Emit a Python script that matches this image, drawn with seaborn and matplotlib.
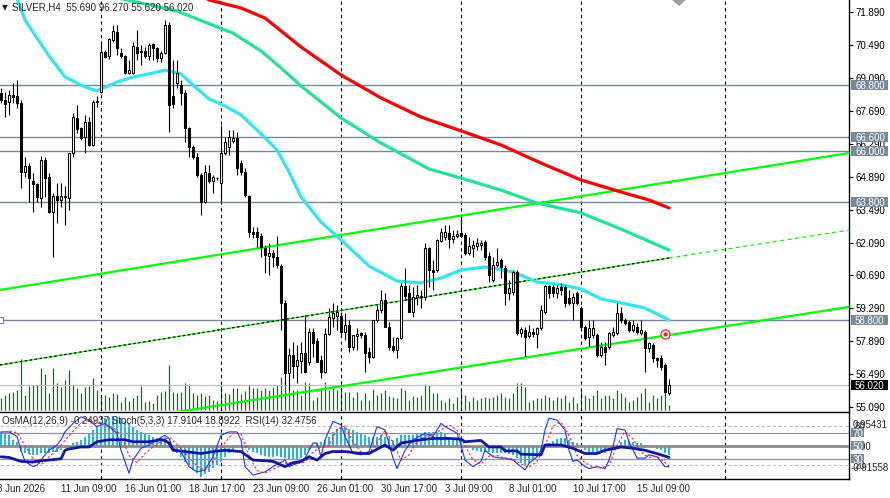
import numpy as np
import matplotlib
matplotlib.use("Agg")
import matplotlib.pyplot as plt
import matplotlib.transforms as mtransforms
from matplotlib.patches import Rectangle, Polygon
import seaborn as sns

# ---------------- data ----------------
open_ = [68.45,68.15,68.07,68.37,68.32,68.03,65.09,65.35,64.71,64.58,
         63.98,65.60,64.88,63.39,64.07,63.90,64.07,63.98,65.90,67.39,
         66.96,66.58,67.22,66.24,68.07,68.49,70.20,70.03,70.71,71.05,
         70.15,70.03,69.30,69.30,70.41,70.20,70.24,70.03,70.54,70.37,
         69.94,70.15,71.35,68.32,68.88,68.79,68.45,66.96,66.15,65.73,
         64.96,63.81,65.05,64.71,64.83,64.62,65.90,66.15,66.41,66.54,
         65.47,65.09,64.07,62.54,62.54,62.37,61.86,61.52,61.64,61.47,
         61.09,59.52,56.54,57.30,56.83,57.05,57.39,57.01,58.28,57.90,
         57.09,56.58,58.20,58.88,58.96,58.96,58.28,58.58,57.64,58.11,
         58.24,58.15,57.43,57.22,58.79,59.22,59.64,58.49,57.69,57.52,
         58.03,60.24,59.94,59.13,59.77,59.77,59.77,61.86,60.92,60.92,
         62.15,62.32,62.49,62.24,62.37,62.49,62.41,61.64,61.86,61.94,
         61.98,62.11,61.52,60.49,61.13,61.35,61.01,59.94,59.98,60.84,
         58.24,58.37,58.11,58.28,58.20,58.45,59.13,60.24,60.20,59.94,
         60.20,60.20,59.73,59.52,59.94,59.30,58.49,58.07,58.15,58.15,
         57.30,57.64,57.64,58.15,58.24,59.09,58.79,58.71,58.37,58.49,
         58.24,58.28,57.60,57.73,57.18,57.18,56.88,55.69]
high_ = [68.66,68.49,68.58,68.88,69.01,68.15,65.73,65.47,65.05,64.62,
         65.77,65.73,65.05,64.20,64.62,64.62,64.49,65.90,67.60,67.94,
         67.01,67.52,67.43,68.15,68.32,70.62,70.28,70.79,71.35,71.35,
         70.37,70.07,69.86,70.62,71.13,70.49,70.41,70.58,70.58,70.41,
         70.24,71.56,71.47,69.86,69.86,69.01,68.58,67.01,66.24,65.90,
         65.05,65.39,65.39,64.96,64.88,67.09,66.58,66.88,66.88,66.79,
         65.60,65.26,64.11,62.75,62.75,62.49,61.98,62.07,61.77,62.37,
         61.18,59.64,57.60,57.86,57.73,57.86,59.01,58.45,58.45,58.03,
         57.30,58.45,59.30,59.52,59.43,59.13,59.09,58.79,58.15,58.45,
         58.28,58.28,57.64,58.79,59.43,60.07,59.94,58.71,58.07,58.07,
         60.37,61.01,60.28,60.20,60.28,60.07,62.07,61.90,61.35,62.24,
         62.71,62.84,62.84,62.62,62.62,63.26,62.49,62.32,62.20,62.28,
         62.20,62.20,61.69,61.47,61.86,61.43,61.13,60.49,60.92,60.92,
         58.49,58.49,58.58,58.45,58.49,59.43,60.28,60.28,60.28,60.28,
         60.37,60.28,60.07,59.94,60.03,59.39,58.58,58.79,58.79,58.24,
         57.86,57.86,58.28,58.49,59.52,59.35,58.88,58.79,58.79,58.66,
         58.79,58.37,57.86,57.81,57.22,57.30,56.96,56.27]
low_ = [68.03,67.43,67.52,68.03,67.81,64.41,64.88,63.81,63.39,63.81,
        63.60,64.03,63.35,61.47,62.92,63.60,62.84,63.47,65.73,66.75,
        66.45,65.90,66.20,66.20,67.86,68.45,69.94,69.90,70.62,70.07,
        69.94,69.26,69.26,69.26,69.86,69.64,69.94,69.86,69.86,69.77,
        69.77,70.11,66.79,67.81,68.66,67.94,66.37,65.73,65.64,64.88,
        63.26,63.77,64.62,64.20,64.75,63.81,65.81,65.81,66.32,64.96,
        64.96,64.03,62.32,62.28,61.86,61.47,60.79,60.71,61.05,61.01,
        58.37,56.03,55.81,56.32,56.11,56.54,56.54,56.88,57.22,57.01,
        56.32,56.54,58.15,58.49,58.37,58.07,57.94,57.43,57.52,57.52,
        58.03,56.58,56.96,57.18,58.71,59.09,58.49,57.52,57.43,57.18,
        57.98,59.64,59.13,58.92,59.43,59.30,59.64,60.20,60.07,60.84,
        62.11,62.20,61.86,62.07,62.28,62.32,61.56,61.56,61.47,61.77,
        61.77,61.35,60.41,60.41,61.05,60.58,59.43,59.64,59.86,58.15,
        58.07,57.22,58.03,58.07,57.60,58.37,59.05,59.73,59.77,59.73,
        59.86,59.35,59.43,58.79,59.43,58.45,57.94,57.64,58.03,57.22,
        57.22,56.88,57.56,58.07,58.15,58.66,58.58,58.28,58.28,58.20,
        58.15,56.58,57.43,57.01,56.79,56.66,55.73,55.62]
close_ = [68.15,67.98,68.37,68.28,68.03,65.09,65.35,64.83,64.58,64.03,
          65.60,64.83,63.39,64.07,63.90,64.07,64.03,65.90,67.43,66.92,
          66.54,67.22,66.24,68.07,68.11,70.20,69.98,70.75,71.09,70.37,
          70.03,69.30,69.43,70.45,70.15,70.24,70.03,70.49,70.37,69.94,
          70.15,71.35,67.94,67.98,69.30,68.45,66.96,66.15,65.73,64.96,
          63.81,65.09,64.71,64.88,64.83,65.90,66.37,66.58,66.54,65.26,
          65.09,64.11,62.54,62.45,62.32,61.90,61.56,61.64,61.47,61.13,
          59.52,56.54,57.30,56.83,57.09,57.39,56.58,58.28,57.81,57.01,
          56.58,58.20,58.92,59.09,59.13,58.28,58.58,57.64,58.15,58.20,
          58.15,57.39,57.22,58.79,59.22,59.64,58.49,57.64,57.52,58.03,
          60.24,59.81,59.13,59.77,59.86,59.81,61.86,60.92,60.84,62.20,
          62.54,62.54,62.24,62.37,62.45,62.37,61.64,61.94,61.98,62.07,
          62.07,61.47,60.71,61.13,61.26,61.05,59.94,60.15,60.84,58.24,
          58.41,58.07,58.28,58.20,58.45,59.22,60.24,59.94,59.94,60.15,
          60.07,59.52,59.52,59.77,59.52,58.49,58.03,58.45,58.45,57.30,
          57.64,57.43,58.24,58.28,59.09,58.79,58.66,58.37,58.58,58.28,
          58.37,57.60,57.81,57.18,57.09,56.79,55.73,56.02]
volume = [1200,1500,1700,1800,2000,5100,1500,2400,2500,2500,
          4200,3600,1700,4200,2700,2300,3000,4000,2500,2200,
          1700,2300,2400,3200,2000,1400,1500,1300,1700,1600,
          800,1300,900,1200,1500,2400,800,900,700,1500,
          1800,1900,4500,1800,1700,1800,2700,2600,1700,1500,
          1700,1400,1500,1000,900,2700,1700,1600,2200,2200,
          1600,1900,2500,2200,2200,2000,2200,2000,2300,2500,
          3300,2900,2300,2000,2000,1500,2800,2700,1000,1300,
          2100,2800,2000,2500,2000,2000,1800,1800,1300,1800,
          1000,1700,1000,2100,1500,1700,2000,1400,1300,1200,
          2200,2000,1000,1400,1300,1500,2600,2500,1700,1700,
          1000,800,1200,700,1300,2000,1500,900,1300,1000,
          1200,1300,1200,1300,1500,1700,1300,1200,1700,2700,
          2700,2300,800,1000,1200,1200,1500,1300,1000,1300,
          1200,1500,800,1300,700,2000,1500,1200,1500,2000,
          1200,1500,1500,1200,2000,1700,1300,800,1000,1300,
          1700,2200,800,1500,1200,1500,2000,500]
osma = [0.41,0.37,0.32,0.18,0.13,-0.15,-0.20,-0.22,-0.24,-0.24,
        -0.20,-0.20,-0.18,-0.15,-0.15,-0.10,-0.06,0.02,0.08,0.13,
        0.18,0.27,0.37,0.46,0.55,0.69,0.79,0.83,0.85,0.83,
        0.79,0.69,0.65,0.55,0.46,0.41,0.37,0.32,0.25,0.22,
        0.22,0.27,0.13,-0.10,-0.20,-0.29,-0.43,-0.52,-0.66,-0.76,
        -0.85,-0.78,-0.71,-0.62,-0.52,-0.43,-0.29,-0.20,-0.10,-0.06,
        -0.03,-0.06,-0.10,-0.15,-0.20,-0.24,-0.27,-0.29,-0.29,-0.27,
        -0.29,-0.34,-0.36,-0.38,-0.38,-0.34,-0.24,-0.10,-0.01,0.08,
        0.13,0.18,0.27,0.41,0.50,0.55,0.55,0.50,0.46,0.41,
        0.37,0.32,0.27,0.27,0.27,0.32,0.27,0.22,0.18,0.22,
        0.32,0.32,0.32,0.32,0.37,0.37,0.41,0.41,0.41,0.41,
        0.41,0.37,0.27,0.24,0.22,0.18,-0.01,-0.06,-0.10,-0.12,
        -0.15,-0.15,-0.15,-0.18,-0.20,-0.20,-0.20,-0.21,-0.24,-0.34,
        -0.48,-0.52,-0.48,-0.38,-0.29,-0.15,0.04,0.08,0.16,0.20,
        0.24,0.22,0.18,0.13,0.08,-0.01,-0.10,-0.15,-0.15,-0.20,
        -0.20,-0.18,-0.13,-0.06,0.04,0.13,0.18,0.16,0.13,0.10,
        0.08,0.04,-0.01,-0.06,-0.08,-0.10,-0.20,-0.25]

fast_ma_bars = [0,3,6,9,12,16,21,24,29,33,38,41,45,48,52,56,60,65,69,72,
                75,80,85,92,99,105,110,115,121,128,134,139,145,150,155,161,167]
fast_ma = [73.69,72.92,71.56,70.79,70.03,69.13,68.71,68.54,68.92,69.13,
           69.30,69.43,69.26,68.79,68.20,67.90,67.52,66.71,66.03,65.09,
           64.03,62.96,62.20,61.09,60.45,60.37,60.58,60.92,61.05,60.84,
           60.41,60.32,60.11,59.69,59.52,59.30,58.79]
mid_ma_bars = [28,35,44,51,58,65,70,75,85,95,107,115,125,134,145,155,167]
mid_ma = [72.54,72.28,71.94,71.47,71.00,70.24,69.52,68.75,67.39,66.32,
          65.22,64.83,64.32,63.77,63.35,62.66,61.77]
slow_ma_bars = [48,52,60,66,75,85,95,105,115,125,135,145,155,162,167]
slow_ma = [72.84,72.41,72.07,71.64,70.41,69.22,68.24,67.43,66.84,66.24,
           65.47,64.75,64.24,63.90,63.56]

stoch_bars = [0,2,4,5,6,8,9,11,12,14,15,16,18,20,22,24,26,27,29,30,32,33,35,37,39,41,42,43,45,47,
              49,51,53,55,57,59,60,61,63,66,68,71,72,74,76,78,79,80,81,83,85,86,88,90,92,94,96,98,99,101,
              103,106,108,110,111,114,115,116,118,120,121,123,125,126,128,130,131,132,134,135,136,137,139,141,142,143,144,146,147,149,
              151,152,153,154,156,157,159,161,162,164,166,167]
stoch_main = [71,71,64,43,26,18,20,36,43,51,59,71,84,94,89,79,84,79,69,43,8,28,46,51,59,66,61,46,41,18,
              10,13,33,66,71,71,59,18,5,10,18,28,18,23,31,54,54,33,59,87,82,64,38,36,41,79,74,31,15,43,
              59,69,64,84,79,69,51,28,18,26,43,33,31,31,28,18,13,23,33,43,74,92,89,74,43,26,28,18,15,18,
              15,28,48,76,74,56,31,31,36,33,18,18]
signal_bars = [0,2,4,6,8,10,12,14,16,18,20,22,24,26,28,30,32,34,36,38,40,42,44,46,48,50,52,54,56,58,
               60,62,64,66,68,70,72,74,76,78,80,82,84,86,88,90,92,94,96,98,100,102,104,106,108,110,112,114,116,118,
               120,122,124,126,128,130,132,134,136,138,140,142,144,146,148,150,152,154,156,158,160,162,164,166,167]
stoch_signal = [69,72,70,50,30,21,33,44,58,72,85,91,85,81,78,66,35,24,38,48,56,63,52,39,25,14,17,35,55,69,
                68,35,12,8,14,20,25,22,25,40,48,50,75,80,56,40,38,55,73,55,28,36,56,64,68,74,82,74,50,28,
                22,34,35,31,30,22,17,26,50,80,86,65,35,24,17,16,20,50,72,60,40,32,34,24,19]
rsi_bars = [0,2,5,8,10,12,15,16,17,20,22,24,27,31,33,37,40,41,42,43,46,50,53,56,60,63,66,68,71,73,
            75,77,79,81,83,86,90,92,96,98,100,102,105,108,112,115,116,120,122,125,126,129,130,135,136,140,143,146,149,151,
            155,158,161,165,167]
rsi = [33,32,26,25,27,28,30,43,45,48,48,56,59,59,56,56,59,58,54,43,41,38,41,43,41,28,27,26,18,24,
       26,33,28,38,41,41,38,38,51,43,54,56,59,61,61,60,56,58,48,48,42,42,37,36,51,51,46,38,38,43,
       48,46,43,36,32]

upper_line_bars = [-0.25, 212.0]
upper_line_prices = [60.07, 65.90]
middle_line_bars = [-0.25, 167.0, 212.0]
middle_line_prices = [56.88, 61.43, 62.62]
lower_line_bars = [30.0, 212.0]
lower_line_prices = [54.51, 59.35]

level_prices = [68.80, 66.60, 66.00, 63.80, 58.80]
current_price = 56.02
price_ticks = [55.09, 56.49, 57.89, 59.29, 60.69, 62.09, 63.49, 64.89, 66.29, 67.69, 69.09, 70.49, 71.89]
grid_bars = [25, 55, 85, 115, 145, 181]
date_bars = [-1, 15, 31, 47, 63, 79, 95, 111, 127, 143, 159]
date_labels = ['8 Jun 2026', '11 Jun 09:00', '16 Jun 01:00', '18 Jun 17:00', '23 Jun 09:00',
               '26 Jun 01:00', '30 Jun 17:00', '3 Jul 09:00', '8 Jul 01:00', '10 Jul 17:00', '15 Jul 09:00']
alert_bar, alert_price = 166, 58.20
title_text = 'SILVER,H4  55.690 96.270 55.620 56.020'
ind_title = 'OsMA(12,26,9) -0.24937 Stoch(5,3,3) 17.9104 18.8922  RSI(14) 32.4756'
osma_max, osma_min = 0.95431, -0.91558

# ---------------- style ----------------
sns.set_style("white")
plt.rcParams['font.family'] = ['Liberation Sans', 'DejaVu Sans']
FS = 7

W, H = 890, 498
fig = plt.figure(figsize=(W / 100, H / 100), dpi=100)
fig.patch.set_facecolor('white')


def px_rect(x0, y0, x1, y1):
    return [x0 / W, 1 - y1 / H, (x1 - x0) / W, (y1 - y0) / H]


def ftext(x, y, s, **kw):
    fig.text(x / W, 1 - y / H, s, **kw)


XMIN, XMAX = -0.25, 212.0
ax = fig.add_axes(px_rect(0, 0, 849, 411))
axv = ax.twinx()
axi = fig.add_axes(px_rect(0, 412, 849, 479))
axs = axi.twinx()

ax.set_zorder(3)
axv.set_zorder(2)
ax.patch.set_alpha(0)

idx = np.arange(len(close_))
o = np.array(open_)
c = np.array(close_)
hi = np.array(high_)
lo = np.array(low_)
bull = c >= o
body_lo = np.minimum(o, c)
body_h = np.maximum(np.abs(c - o), 0.012)

# volumes
axv.vlines(idx, 0, volume, color='#008000', lw=0.9)
axv.set_ylim(-100, 41100)
axv.set_xlim(XMIN, XMAX)
axv.axis('off')

# grid dashed verticals
for gb in grid_bars:
    ax.axvline(gb, color='black', lw=0.8, ls=(0, (3, 3)), zorder=1)
    axi.axvline(gb, color='black', lw=0.8, ls=(0, (3, 3)), zorder=1)

# horizontal levels
for lp in level_prices:
    ax.axhline(lp, color='#778899', lw=1.0, zorder=2)
ax.axhline(current_price, color='#C0C0C0', lw=0.9, zorder=2)

# trend channel
ax.plot(upper_line_bars, upper_line_prices, color='#00FF00', lw=1.6, zorder=3, solid_capstyle='butt')
ax.plot(lower_line_bars, lower_line_prices, color='#00FF00', lw=1.6, zorder=3, solid_capstyle='butt')
ax.plot(middle_line_bars[:2], middle_line_prices[:2], color='#00FF00', lw=0.9, zorder=3)
ax.plot(middle_line_bars[:2], middle_line_prices[:2], color='black', lw=0.9, ls=(0, (2, 2)), zorder=3)
ax.plot(middle_line_bars[1:], middle_line_prices[1:], color='#00FF00', lw=0.9, ls=(0, (3, 3)), zorder=3)

# moving averages
sns.lineplot(x=slow_ma_bars, y=slow_ma, ax=ax, color='#FF0000', lw=2.3, zorder=5)
sns.lineplot(x=mid_ma_bars, y=mid_ma, ax=ax, color='#22E39A', lw=2.3, zorder=5)
sns.lineplot(x=fast_ma_bars, y=fast_ma, ax=ax, color='#30E6F0', lw=2.3, zorder=5)

# candles
ax.vlines(idx, lo, hi, color='black', lw=0.8, zorder=6)
ax.bar(idx[bull], body_h[bull], bottom=body_lo[bull], width=0.5, color='white',
       edgecolor='black', linewidth=0.75, zorder=7)
ax.bar(idx[~bull], body_h[~bull], bottom=body_lo[~bull], width=0.5, color='black',
       edgecolor='black', linewidth=0.75, zorder=7)

# markers
ax.plot([alert_bar], [alert_price], marker='o', ms=6.5, mfc='white', mec='#FF2020', mew=0.9, zorder=9)
ax.plot([alert_bar], [alert_price], marker='o', ms=2, mfc='#FF2020', mec='#FF2020', zorder=9)
ax.plot([XMIN], [level_prices[-1]], marker='s', ms=4, mfc='white', mec='#778899', mew=0.8,
        zorder=9, clip_on=False)

ax.set_xlim(XMIN, XMAX)
ax.set_ylim(54.92, 72.41)
ax.set_xlabel('')
ax.set_ylabel('')
ax.set_xticks([])
ax.yaxis.tick_right()
ax.set_yticks(price_ticks)
ax.set_yticklabels([f'{v:.3f}' for v in price_ticks])
ax.tick_params(axis='y', length=3, width=0.8, pad=2, labelsize=FS, colors='black', direction='out')
for s in ['top', 'left', 'bottom']:
    ax.spines[s].set_visible(False)
ax.spines['right'].set_color('black')
ax.spines['right'].set_linewidth(1.0)

# price boxes
trans = mtransforms.blended_transform_factory(ax.transAxes, ax.transData)
half = 5 * (72.41 - 54.92) / 411
for lp in level_prices:
    ax.add_patch(Rectangle((851 / 849, lp - half), 37 / 849, 2 * half, transform=trans,
                           fc='#778899', ec='none', clip_on=False, zorder=20))
    ax.text(855 / 849, lp, f'{lp:.3f}', transform=trans, color='white', fontsize=FS,
            va='center_baseline', ha='left', clip_on=False, zorder=21)
ax.add_patch(Rectangle((851 / 849, current_price - half), 37 / 849, 2 * half, transform=trans,
                       fc='black', ec='none', clip_on=False, zorder=20))
ax.text(855 / 849, current_price, f'{current_price:.3f}', transform=trans, color='white', fontsize=FS,
        va='center_baseline', ha='left', clip_on=False, zorder=21)

# ---------------- indicator window ----------------
axi.bar(idx, osma, width=0.68, color='#22B4EE', linewidth=0, edgecolor='none', zorder=2)
axi.set_xlim(XMIN, XMAX)
axi.set_ylim(-0.9156, 0.9627)
axi.set_yticks([])
axi.set_xticks(date_bars[1:])
axi.set_xticklabels([])
axi.tick_params(axis='x', length=3, width=0.8, colors='black', direction='out')
axi.spines['left'].set_visible(False)
for s in ['top', 'right', 'bottom']:
    axi.spines[s].set_color('black')
    axi.spines[s].set_linewidth(1.0)

axs.set_ylim(-0.9, 101.4)
axs.set_xlim(XMIN, XMAX)
axs.axhline(80, color='#C0C0C0', lw=0.8, ls=(0, (3, 2)), zorder=1)
axs.axhline(20, color='#C0C0C0', lw=0.8, ls=(0, (3, 2)), zorder=1)
axs.axhline(70, color='#8A94A0', lw=0.9, zorder=1)
axs.axhline(30, color='#8A94A0', lw=0.9, zorder=1)
axs.axhline(50, color='#8C8C8C', lw=2.0, zorder=1)
sns.lineplot(x=stoch_bars, y=stoch_main, ax=axs, color='#1E32FF', lw=0.8, zorder=3)
axs.plot(signal_bars, stoch_signal, color='#FF2020', lw=0.8, ls=(0, (2, 2)), zorder=3)
sns.lineplot(x=rsi_bars, y=rsi, ax=axs, color='#1414A8', lw=2.0, zorder=4)
axs.set_yticks([])
axs.set_ylabel('')
axs.set_xlabel('')
for s in axs.spines.values():
    s.set_visible(False)
axi.set_xlabel('')

# indicator labels
strans = mtransforms.blended_transform_factory(axs.transAxes, axs.transData)
otrans = mtransforms.blended_transform_factory(axi.transAxes, axi.transData)
axi.text(853 / 849, 0.63, f'{osma_max:.5f}', transform=otrans, fontsize=FS, va='center_baseline',
         ha='left', clip_on=False)
axi.text(851 / 849, -0.57, f'{osma_min:.5f}', transform=otrans, fontsize=FS, va='center_baseline',
         ha='left', clip_on=False)
axi.text(853 / 849, 0.0, '0.00', transform=otrans, fontsize=FS, va='center_baseline', ha='left',
         clip_on=False)
axs.text(855 / 849, 80, '80', transform=strans, fontsize=FS, va='center_baseline', ha='left',
         clip_on=False, zorder=5)
axs.text(855 / 849, 20, '20', transform=strans, fontsize=FS, va='center_baseline', ha='left',
         clip_on=False, zorder=5)
lvl_half = 4.7 * 102.3 / 67
for lv in [70, 50, 30]:
    axs.add_patch(Rectangle((851 / 849, lv - lvl_half), 13 / 849, 2 * lvl_half, transform=strans,
                            fc='#778899', ec='none', clip_on=False, zorder=10))
    axs.text(852.5 / 849, lv, str(lv), transform=strans, color='white', fontsize=FS,
             va='center_baseline', ha='left', clip_on=False, zorder=11)

# date labels
dtrans = mtransforms.blended_transform_factory(axi.transData, axi.transAxes)
for b, lab in zip(date_bars, date_labels):
    axi.text(b, -10 / 67, lab, transform=dtrans, fontsize=FS, va='center', ha='left', clip_on=False)

# titles
ftext(2, 7.5, '\u25bc', fontsize=5.5, va='center', ha='left', family=['DejaVu Sans'])
ftext(12, 7, title_text, fontsize=FS, va='center', ha='left')
ftext(2, 421, ind_title, fontsize=FS, va='center', ha='left')

# chart shift marker
fig.add_artist(Polygon([[672 / W, 1.0], [686 / W, 1.0], [679 / W, 1 - 6 / H]], closed=True,
                       transform=fig.transFigure, fc='#A0A0A0', ec='none', zorder=30))

fig.savefig('out.png', dpi=100)
